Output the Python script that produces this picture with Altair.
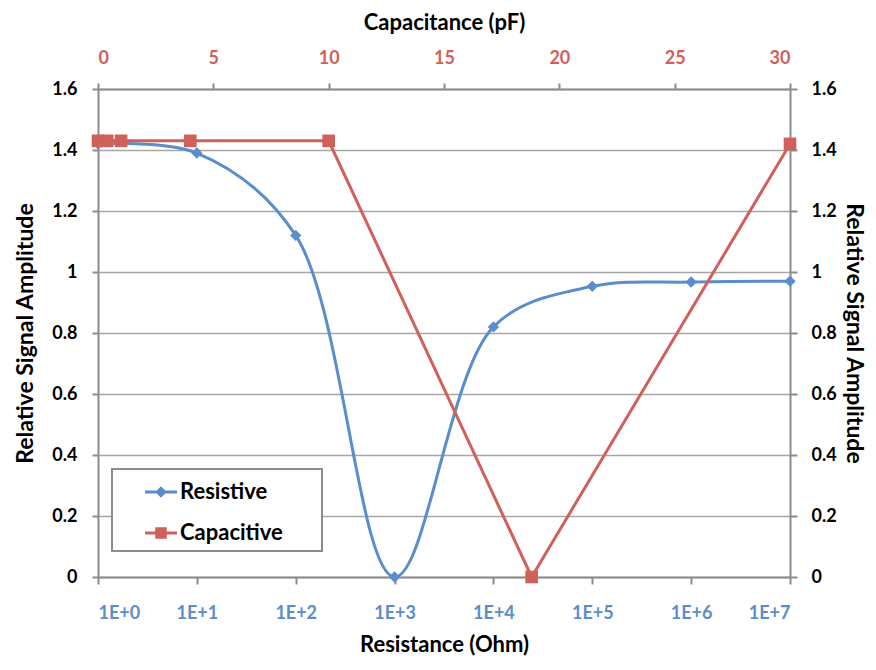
import altair as alt
import pandas as pd

# ---- data ----
res_ohm = [1, 10, 100, 1000, 1e4, 1e5, 1e6, 1e7]
res_amp = [1.42, 1.39, 1.12, 0.0, 0.82, 0.953, 0.967, 0.97]
cap_pf = [0, 0.4, 1, 4, 10, 18.8, 30]
cap_amp = [1.43, 1.43, 1.43, 1.43, 1.43, 0.0, 1.42]
series = ["Resistive", "Capacitive"]
colors = ["#5A8DCB", "#D0605A"]
amp_ticks = [0, 0.2, 0.4, 0.6, 0.8, 1.0, 1.2, 1.4, 1.6]
res_ticks = [1, 10, 100, 1000, 1e4, 1e5, 1e6, 1e7]
cap_ticks = [0, 5, 10, 15, 20, 25, 30]

FONT = "Lato"
AXIS_GRAY = "#8C8C8C"

res_df = pd.DataFrame({"R": res_ohm, "A": res_amp})
cap_df = pd.DataFrame({"C": cap_pf, "A": cap_amp})
leg_df = pd.DataFrame({"series": series})

def axis_style(title_size):
    return dict(
        labelFont=FONT, labelFontSize=18, labelFontWeight="bold",
        titleFont=FONT, titleFontSize=title_size, titleFontWeight="bold",
        titleColor="black", domainColor=AXIS_GRAY, domainWidth=2,
        tickColor=AXIS_GRAY, tickWidth=2,
    )

x_res = alt.X(
    "R:Q",
    scale=alt.Scale(type="log", domain=[1, 1e7], nice=False),
    axis=alt.Axis(
        orient="bottom", values=res_ticks,
        labelExpr="'1E+' + round(log(datum.value) / LN10)",
        labelColor=colors[0], title="Resistance (Ohm)", grid=False,
        tickSize=7, labelPadding=20, titleY=67, titleBaseline="middle",
        **axis_style(22),
    ),
)
y_left = alt.Y(
    "A:Q",
    scale=alt.Scale(domain=[0, 1.6], nice=False, zero=False),
    axis=alt.Axis(
        orient="left", values=amp_ticks, format=".1~f", labelColor="black",
        title="Relative Signal Amplitude", grid=True, gridColor="#A6A6A6",
        gridWidth=1.5, tickSize=6, labelPadding=15, titleX=-73,
        titleBaseline="middle", **axis_style(23),
    ),
)
x_cap = alt.X(
    "C:Q",
    scale=alt.Scale(domain=[0, 30], nice=False, zero=False),
    axis=alt.Axis(
        orient="top", values=cap_ticks, labelColor=colors[1],
        title="Capacitance (pF)", grid=False, tickSize=6, labelPadding=16,
        titleY=-67, titleBaseline="middle", **axis_style(22),
    ),
)
y_right = alt.Y(
    "A:Q",
    scale=alt.Scale(domain=[0, 1.6], nice=False, zero=False),
    axis=alt.Axis(
        orient="right", values=amp_ticks, format=".1~f", labelColor="black",
        title="Relative Signal Amplitude", grid=False, tickSize=7,
        labelPadding=14, titleAngle=90, titleX=63, titleBaseline="middle",
        **axis_style(23),
    ),
)

res_base = alt.Chart(res_df).encode(x=x_res, y=y_left)
blue = alt.layer(
    res_base.mark_line(interpolate="catmull-rom", color=colors[0], strokeWidth=3),
    res_base.mark_point(shape="diamond", filled=True, size=130, color=colors[0], opacity=1),
)

cap_base = alt.Chart(cap_df).encode(x=x_cap, y=y_right)

res_sym = "M-1,-0.09L1,-0.09L1,0.09L-1,0.09Z M0,-0.36L0.36,0L0,0.36L-0.36,0Z"
cap_sym = "M-1,-0.09L1,-0.09L1,0.09L-1,0.09Z M-0.36,-0.36L0.36,-0.36L0.36,0.36L-0.36,0.36Z"

leg = alt.Legend(
    title=None, orient="none", legendX=14, legendY=380,
    symbolSize=1024, symbolStrokeWidth=0, symbolOpacity=1,
    labelFont=FONT, labelFontSize=22, labelFontWeight="bold", labelColor="black",
    labelExpr="datum.label + '\u2800\u2800'",
    padding=7, symbolOffset=26, rowPadding=14, labelOffset=3,
    fillColor="white", strokeColor="#8C8C8C",
)
legend_layer = (
    alt.Chart(leg_df)
    .mark_point(filled=True, opacity=1)
    .encode(
        color=alt.Color("series:N", scale=alt.Scale(domain=series, range=colors), legend=leg),
        shape=alt.Shape("series:N", scale=alt.Scale(domain=series, range=[res_sym, cap_sym]), legend=leg),
    )
    .transform_filter("false")
)

red = alt.layer(
    cap_base.mark_line(color=colors[1], strokeWidth=3),
    cap_base.mark_point(shape="square", filled=True, size=160, color=colors[1], opacity=1),
    legend_layer,
)

chart = (
    alt.layer(blue, red)
    .resolve_scale(x="independent", y="independent")
    .properties(
        width=692, height=488,
        autosize=alt.AutoSizeParams(type="none"),
        padding={"left": 90, "top": 81, "right": 78, "bottom": 80},
    )
    .configure_view(stroke=None)
    .configure_legend(strokeWidth=2)
)

chart.save("out.html", embed_options={"renderer": "svg", "actions": False})
